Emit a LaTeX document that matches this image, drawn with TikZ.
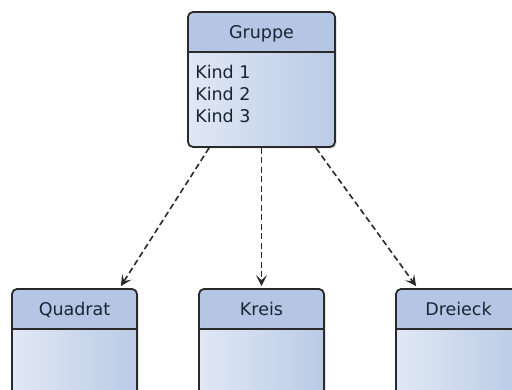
\documentclass[tikz,border=0pt]{standalone}
\usepackage{fontspec}
\setmainfont{DejaVu Sans}
\usetikzlibrary{positioning, shadows, arrows.meta}
\definecolor{rand}{HTML}{2A2A2A}
\definecolor{schrift}{HTML}{1A2533}
\definecolor{kopfblau}{HTML}{B4C6E3}
\definecolor{koerperhell}{HTML}{E0E8F4}
\definecolor{koerperdunkel}{HTML}{BACBE6}

\begin{document}
\begin{tikzpicture}[x=1pt, y=1pt, font=\fontsize{17.5pt}{22pt}\selectfont,
	klasse/.style={draw=rand, line width=1.8pt, rounded corners=5pt,
		left color=koerperhell, right color=koerperdunkel,
		drop shadow={shadow xshift=1.5pt, shadow yshift=-1.5pt, opacity=.3},
		path picture={
			\fill[kopfblau] (path picture bounding box.north west) rectangle ([yshift=-40pt]path picture bounding box.north east);
			\draw[rand, line width=1.8pt] ([yshift=-40pt]path picture bounding box.north west) -- ([yshift=-40pt]path picture bounding box.north east);
		}},
	titel/.style={text=schrift, inner sep=0pt, anchor=base},
	inhalt/.style={text=schrift, inner sep=0pt, align=left, anchor=north west},
	pfeil/.style={draw=rand, line width=1.6pt, dash pattern=on 6pt off 3.5pt,
		-{Stealth[length=11pt, width=11pt, inset=5pt]}}]
		\clip (0,0) rectangle (512,390);
		% Klassen
		\node [klasse, minimum width=147pt, minimum height=135pt] (gruppe) at (261.5, 310.5) {};
		\node [klasse, minimum width=125pt, minimum height=120pt] (quadrat) at (74.5, 41) {};
		\node [klasse, minimum width=125pt, minimum height=120pt] (kreis) at (261.5, 41) {};
		\node [klasse, minimum width=125pt, minimum height=120pt] (dreieck) at (458.5, 41) {};
		% Beschriftungen
		\node [titel] (gruppetitel) at ([yshift=-27pt]gruppe.north) {Gruppe};
		\node [inhalt] (gruppeinhalt) at ([xshift=8pt, yshift=-54pt]gruppe.north west) {Kind 1\\Kind 2\\Kind 3};
		\node [titel] (quadrattitel) at ([yshift=-27pt]quadrat.north) {Quadrat};
		\node [titel] (kreistitel) at ([yshift=-27pt]kreis.north) {Kreis};
		\node [titel] (dreiecktitel) at ([yshift=-27pt]dreieck.north) {Dreieck};
		% Pfeile
		\draw [pfeil] ([xshift=22pt]gruppe.south west) -- ([xshift=-17pt, yshift=2pt]quadrat.north east);
		\draw [pfeil] (gruppe.south) -- ([yshift=2pt]kreis.north);
		\draw [pfeil] ([xshift=-20pt]gruppe.south east) -- ([xshift=21pt, yshift=2pt]dreieck.north west);
	\end{tikzpicture}
\end{document}
